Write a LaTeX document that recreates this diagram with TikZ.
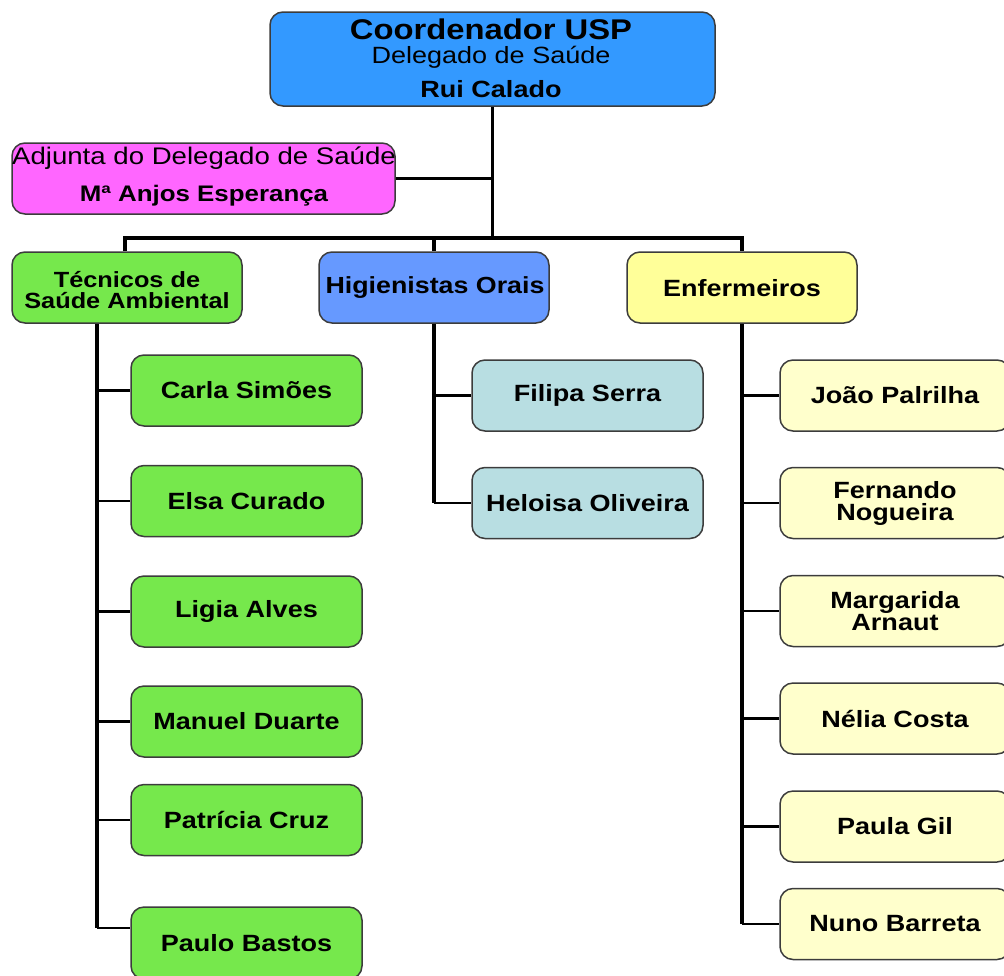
\documentclass[tikz,border=0pt]{standalone}
\usepackage{fontspec}
\setmainfont{Liberation Sans}[FakeStretch=1.15]
\definecolor{cblue}{RGB}{51,153,255}
\definecolor{cpink}{RGB}{255,102,255}
\definecolor{cgreen}{RGB}{118,232,76}
\definecolor{chig}{RGB}{102,153,255}
\definecolor{cenf}{RGB}{255,255,153}
\definecolor{cyel}{RGB}{255,255,204}
\definecolor{cteal}{RGB}{184,222,226}
\definecolor{cedge}{RGB}{60,60,60}
\begin{document}
\begin{tikzpicture}[x=1pt,y=-1pt,
  box/.style={draw=cedge, line width=1.5pt, rounded corners=13pt, inner sep=0pt},
  lbl/.style={inner sep=0pt, align=center, font={\fontsize{23.5}{22}\selectfont\bfseries}},
  trunk/.style={line width=3.5pt, black},
  branch/.style={line width=2.5pt, black}]
\useasboundingbox (0,0) rectangle (1004,975);
% top
\node[box, fill=cblue, minimum width=445pt, minimum height=94pt] (coord) at (492.5,59) {};
\node[inner sep=0pt, font={\fontsize{28.5}{30}\selectfont\bfseries}] (coordt1) at (491,29) {Coordenador USP};
\node[inner sep=0pt, font={\fontsize{23.5}{24}\selectfont}] (coordt2) at (491,57) {Delegado de Saúde};
\node[lbl] (coordt3) at (491,89) {Rui Calado};
% adjunta
\node[box, fill=cpink, minimum width=383pt, minimum height=71pt] (adj) at (203.5,178.5) {};
\node[inner sep=0pt, font={\fontsize{24}{24}\selectfont}] (adjt1) at (204,158) {Adjunta do Delegado de Saúde};
\node[inner sep=0pt, font={\fontsize{22.5}{22}\selectfont\bfseries}] (adjt2) at (204,196) {Mª Anjos Esperança};
% level 2
\node[box, fill=cgreen, minimum width=230pt, minimum height=71pt] (tec) at (127,287.5) {};
\node[lbl, font={\fontsize{22}{21}\selectfont\bfseries}] (tect) at (127,290) {Técnicos de\\Saúde Ambiental};
\node[box, fill=chig, minimum width=230pt, minimum height=71pt] (hig) at (434,287.5) {};
\node[lbl, font={\fontsize{23.3}{21}\selectfont\bfseries}] (higt) at (435,288) {Higienistas Orais};
\node[box, fill=cenf, minimum width=230pt, minimum height=71pt] (enf) at (742,287.5) {};
\node[lbl] (enft) at (742,288) {Enfermeiros};
% green children
\tikzset{gbox/.style={box, fill=cgreen, minimum width=231pt, minimum height=71pt, lbl}}
\node[gbox] (carla) at (246.5,390.5) {Carla Simões};
\node[gbox] (elsa) at (246.5,501) {Elsa Curado};
\node[gbox] (ligia) at (246.5,611.5) {Ligia Alves};
\node[gbox] (manuel) at (246.5,721.5) {Manuel Duarte};
\node[gbox] (patricia) at (246.5,820) {Patrícia Cruz};
\node[gbox, minimum height=72pt] (paulo) at (246.5,943) {Paulo Bastos};
% teal children
\tikzset{tbox/.style={box, fill=cteal, minimum width=231pt, minimum height=71pt, lbl}}
\node[tbox] (filipa) at (587.5,395.5) {Filipa Serra};
\node[tbox] (heloisa) at (587.5,503) {Heloisa Oliveira};
% yellow children
\tikzset{ybox/.style={box, fill=cyel, minimum width=230pt, minimum height=71pt, lbl}}
\node[ybox] (joao) at (895,395.5) {João Palrilha};
\node[ybox] (fernando) at (895,503) {Fernando\\Nogueira};
\node[ybox] (margarida) at (895,611) {Margarida\\Arnaut};
\node[ybox] (nelia) at (895,718.5) {Nélia Costa};
\node[ybox] (paula) at (895,826.5) {Paula Gil};
\node[ybox] (nuno) at (895,924) {Nuno Barreta};
% connectors
\coordinate (busL) at (125,238);
\draw[trunk] (coord.south) -- (coord.south |- busL);
\draw[branch] (adj.east) -- (adj.east -| coord.south);
\draw[trunk] (tec.north -| busL) -- (busL) -- (busL -| enf.north) -- (enf.north);
\draw[trunk] (hig.north) -- (hig.north |- busL);
% tecnicos
\coordinate (tecs) at ([xshift=-30pt]tec.south);
\coordinate (pauloin) at ([yshift=15pt]paulo.west);
\draw[trunk] (tecs) -- (tecs |- pauloin);
\foreach \c in {carla,elsa,ligia,manuel,patricia} \draw[branch] (\c.west -| tecs) -- (\c.west);
\draw[branch] (pauloin -| tecs) -- (pauloin);
% higienistas
\draw[trunk] (hig.south) -- (hig.south |- heloisa.west);
\foreach \c in {filipa,heloisa} \draw[branch] (\c.west -| hig.south) -- (\c.west);
% enfermeiros
\draw[trunk] (enf.south) -- (enf.south |- nuno.west);
\foreach \c in {joao,fernando,margarida,nelia,paula,nuno} \draw[branch] (\c.west -| enf.south) -- (\c.west);
\end{tikzpicture}
\end{document}
